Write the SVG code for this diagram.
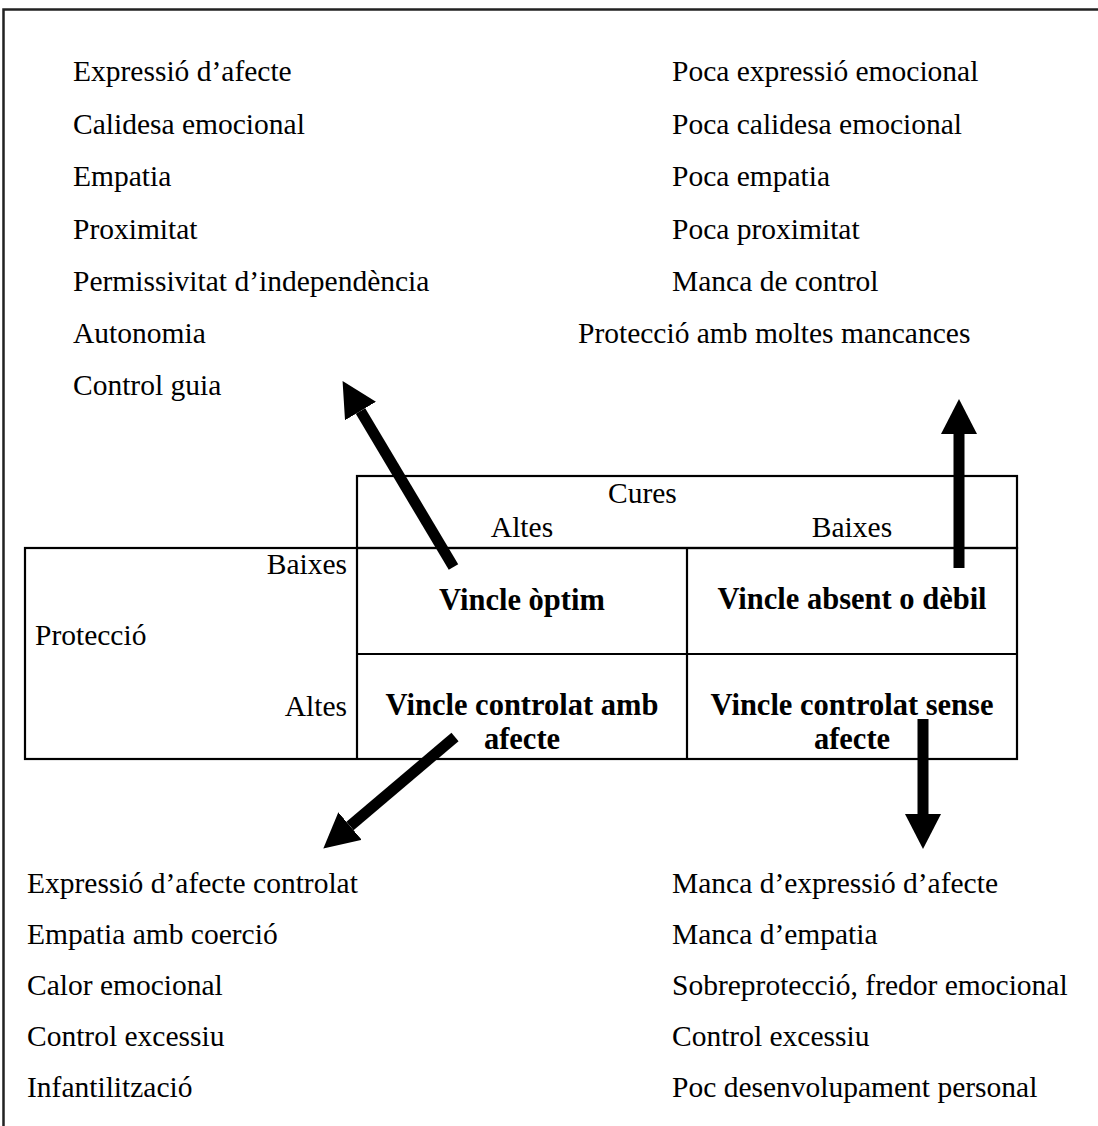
<svg xmlns="http://www.w3.org/2000/svg" width="1098" height="1126" viewBox="0 0 1098 1126">
<style>
.t{font-family:"Liberation Serif","Times New Roman",serif;font-size:29.5px;fill:#000}
.b{font-family:"Liberation Serif","Times New Roman",serif;font-size:30.5px;font-weight:bold;fill:#000;text-anchor:middle}
.m{text-anchor:middle}
.e{text-anchor:end}
.ln{stroke:#000;stroke-width:2.2;fill:none}
.ar{stroke:#000;stroke-width:11;fill:none}
</style>
<defs>
<marker id="ah" markerUnits="userSpaceOnUse" markerWidth="36" markerHeight="36" refX="0" refY="17.5" orient="auto" viewBox="0 0 35 35">
<path d="M0,0 L34,17.5 L0,35 Z" fill="#000"/>
</marker>
</defs>
<rect width="1098" height="1126" fill="#fff"/>
<g id="frame">
<path d="M3.5,1126 L3.5,9.5 L1098,9.5" stroke="#222" stroke-width="2.5" fill="none"/>
</g>
<g id="list-top-left">
<text class="t" x="73" y="81">Expressió d’afecte</text>
<text class="t" x="73" y="134">Calidesa emocional</text>
<text class="t" x="73" y="186">Empatia</text>
<text class="t" x="73" y="239">Proximitat</text>
<text class="t" x="73" y="291">Permissivitat d’independència</text>
<text class="t" x="73" y="343">Autonomia</text>
<text class="t" x="73" y="395">Control guia</text>
</g>
<g id="list-top-right">
<text class="t" x="672" y="81">Poca expressió emocional</text>
<text class="t" x="672" y="134">Poca calidesa emocional</text>
<text class="t" x="672" y="186">Poca empatia</text>
<text class="t" x="672" y="239">Poca proximitat</text>
<text class="t" x="672" y="291">Manca de control</text>
<text class="t" x="578" y="343">Protecció amb moltes mancances</text>
</g>
<g id="table">
<rect class="ln" x="357" y="476" width="660" height="72"/>
<rect class="ln" x="25" y="548" width="992" height="211"/>
<line class="ln" x1="357" y1="548" x2="357" y2="759"/>
<line class="ln" x1="687" y1="548" x2="687" y2="759"/>
<line class="ln" x1="357" y1="654" x2="1017" y2="654"/>
<text class="t" x="608" y="503">Cures</text>
<text class="t m" x="522" y="537">Altes</text>
<text class="t m" x="852" y="537">Baixes</text>
<text class="t e" x="347" y="574">Baixes</text>
<text class="t" x="35" y="645">Protecció</text>
<text class="t e" x="347" y="716">Altes</text>
</g>
<g id="cell-optim"><text class="b" x="522" y="610">Vincle òptim</text></g>
<g id="cell-absent"><text class="b" x="852" y="609">Vincle absent o dèbil</text></g>
<g id="cell-controlat-amb"><text class="b" x="522" y="715">Vincle controlat amb</text><text class="b" x="522" y="749">afecte</text></g>
<g id="cell-controlat-sense"><text class="b" x="852" y="715">Vincle controlat sense</text><text class="b" x="852" y="749">afecte</text></g>
<g id="list-bottom-left">
<text class="t" x="27" y="893">Expressió d’afecte controlat</text>
<text class="t" x="27" y="944">Empatia amb coerció</text>
<text class="t" x="27" y="995">Calor emocional</text>
<text class="t" x="27" y="1046">Control excessiu</text>
<text class="t" x="27" y="1097">Infantilització</text>
</g>
<g id="list-bottom-right">
<text class="t" x="672" y="893">Manca d’expressió d’afecte</text>
<text class="t" x="672" y="944">Manca d’empatia</text>
<text class="t" x="672" y="995">Sobreprotecció, fredor emocional</text>
<text class="t" x="672" y="1046">Control excessiu</text>
<text class="t" x="672" y="1097">Poc desenvolupament personal</text>
</g>
<g id="connectors">
<line class="ar" x1="453.5" y1="567" x2="360.5" y2="411" marker-end="url(#ah)"/>
<line class="ar" x1="959" y1="568" x2="959" y2="434" marker-end="url(#ah)"/>
<line class="ar" x1="923" y1="719" x2="923" y2="814" marker-end="url(#ah)"/>
<line class="ar" x1="455" y1="737" x2="350" y2="826" marker-end="url(#ah)"/>
</g>
</svg>
